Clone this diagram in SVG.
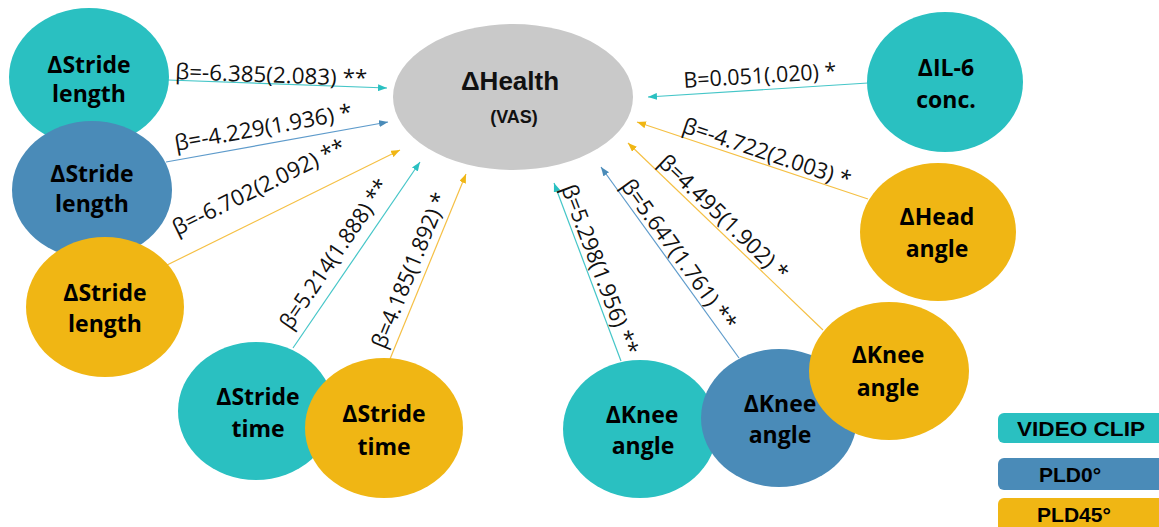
<svg xmlns="http://www.w3.org/2000/svg" width="1159" height="527" viewBox="0 0 1159 527">
<style>
.teal{fill:#2AC0C1}
.blue{fill:#4A8BB8}
.yel{fill:#F0B614}
.gray{fill:#C9C9C9}
.nt{font-family:"Open Sans","DejaVu Sans",sans-serif;font-weight:bold;font-size:23px;fill:#000;text-anchor:middle}
.lb{font-family:"Open Sans","DejaVu Sans",sans-serif;font-size:22px;fill:#111}
.lg{font-family:"Liberation Sans",Arial,sans-serif;font-weight:bold;font-size:21px;fill:#000;text-anchor:middle}
.ht{font-family:"Liberation Sans",Arial,sans-serif;font-weight:bold;fill:#111;text-anchor:middle}
.lt{stroke:#45C6C8;stroke-width:1.2;fill:none}
.lbl{stroke:#5E9BCB;stroke-width:1.2;fill:none}
.ly{stroke:#F5C045;stroke-width:1.2;fill:none}
</style>
<defs>
<marker id="at" markerUnits="userSpaceOnUse" markerWidth="9" markerHeight="7" refX="9" refY="3.5" orient="auto"><path d="M0,0 L9,3.5 L0,7 z" fill="#2AC0C1"/></marker>
<marker id="ab" markerUnits="userSpaceOnUse" markerWidth="9" markerHeight="7" refX="9" refY="3.5" orient="auto"><path d="M0,0 L9,3.5 L0,7 z" fill="#4A8BB8"/></marker>
<marker id="ay" markerUnits="userSpaceOnUse" markerWidth="9" markerHeight="7" refX="9" refY="3.5" orient="auto"><path d="M0,0 L9,3.5 L0,7 z" fill="#F0B614"/></marker>
</defs>
<rect width="1159" height="527" fill="#fff"/>

<g id="connectors">
<g id="c1"><line class="lt" x1="168" y1="80" x2="387" y2="88" marker-end="url(#at)"/>
<text class="lb" transform="translate(175,79) rotate(2.1)" textLength="192" lengthAdjust="spacingAndGlyphs">β=-6.385(2.083) **</text></g>
<g id="c2"><line class="lbl" x1="166" y1="162" x2="388" y2="122" marker-end="url(#ab)"/>
<text class="lb" transform="translate(176,151) rotate(-10.2)" textLength="180" lengthAdjust="spacingAndGlyphs">β=-4.229(1.936) *</text></g>
<g id="c3"><line class="ly" x1="163" y1="267" x2="400" y2="150" marker-end="url(#ay)"/>
<text class="lb" transform="translate(177,236) rotate(-26.3)" textLength="190" lengthAdjust="spacingAndGlyphs">β=-6.702(2.092) **</text></g>
<g id="c4"><line class="lt" x1="293" y1="348" x2="420" y2="162" marker-end="url(#at)"/>
<text class="lb" transform="translate(291,331) rotate(-55.7)" textLength="176" lengthAdjust="spacingAndGlyphs">β=5.214(1.888) **</text></g>
<g id="c5"><line class="ly" x1="390" y1="359" x2="466" y2="174" marker-end="url(#ay)"/>
<text class="lb" transform="translate(385,350) rotate(-67.7)" textLength="166" lengthAdjust="spacingAndGlyphs">β=4.185(1.892) *</text></g>
<g id="c6"><line class="lt" x1="621" y1="361" x2="554" y2="183" marker-end="url(#at)"/>
<text class="lb" transform="translate(561,188) rotate(69.4)" textLength="180" lengthAdjust="spacingAndGlyphs">β=5.298(1.956) **</text></g>
<g id="c7"><line class="lbl" x1="739" y1="358" x2="601" y2="167" marker-end="url(#ab)"/>
<text class="lb" transform="translate(620,186) rotate(54.1)" textLength="180" lengthAdjust="spacingAndGlyphs">β=5.647(1.761) **</text></g>
<g id="c8"><line class="ly" x1="823" y1="330" x2="628" y2="143" marker-end="url(#ay)"/>
<text class="lb" transform="translate(657,164) rotate(43.8)" textLength="170" lengthAdjust="spacingAndGlyphs">β=4.495(1.902) *</text></g>
<g id="c9"><line class="ly" x1="868" y1="199" x2="637" y2="122" marker-end="url(#ay)"/>
<text class="lb" transform="translate(681,132) rotate(18.4)" textLength="176" lengthAdjust="spacingAndGlyphs">β=-4.722(2.003) *</text></g>
<g id="c10"><line class="lt" x1="868" y1="83" x2="648" y2="97" marker-end="url(#at)"/>
<text class="lb" transform="translate(684,88) rotate(-3.6)" textLength="153" lengthAdjust="spacingAndGlyphs">B=0.051(.020) *</text></g>
</g>

<g id="health"><ellipse class="gray" cx="513" cy="97" rx="120" ry="73"/>
<text class="ht" x="510" y="90" font-size="26">ΔHealth</text>
<text class="ht" x="514" y="123" font-size="18">(VAS)</text></g>

<g id="strideLenVideo"><ellipse class="teal" cx="89" cy="77" rx="80" ry="69"/>
<text class="nt" x="89" y="73">ΔStride</text><text class="nt" x="89" y="102">length</text></g>
<g id="strideLenPLD0"><ellipse class="blue" cx="92" cy="190" rx="80" ry="69"/>
<text class="nt" x="92" y="182">ΔStride</text><text class="nt" x="92" y="212">length</text></g>
<g id="strideLenPLD45"><ellipse class="yel" cx="105" cy="307" rx="79" ry="70"/>
<text class="nt" x="105" y="301">ΔStride</text><text class="nt" x="105" y="332">length</text></g>

<g id="strideTimeVideo"><ellipse class="teal" cx="256" cy="411" rx="78" ry="69"/>
<text class="nt" x="258" y="405">ΔStride</text><text class="nt" x="258" y="437">time</text></g>
<g id="strideTimePLD45"><ellipse class="yel" cx="384" cy="428" rx="79" ry="70"/>
<text class="nt" x="384" y="422">ΔStride</text><text class="nt" x="384" y="455">time</text></g>

<g id="kneeVideo"><ellipse class="teal" cx="640" cy="429" rx="77" ry="69"/>
<text class="nt" x="642" y="423">ΔKnee</text><text class="nt" x="643" y="454">angle</text></g>
<g id="kneePLD0"><ellipse class="blue" cx="779" cy="418" rx="78" ry="69"/>
<text class="nt" x="780" y="412">ΔKnee</text><text class="nt" x="780" y="443">angle</text></g>
<g id="kneePLD45"><ellipse class="yel" cx="889" cy="371" rx="80" ry="69"/>
<text class="nt" x="888" y="363">ΔKnee</text><text class="nt" x="888" y="396">angle</text></g>

<g id="headPLD45"><ellipse class="yel" cx="938" cy="232" rx="78" ry="69"/>
<text class="nt" x="937" y="225">ΔHead</text><text class="nt" x="937" y="257">angle</text></g>
<g id="il6"><ellipse class="teal" cx="945" cy="82" rx="78" ry="70"/>
<text class="nt" x="946" y="76">ΔIL-6</text><text class="nt" x="946" y="108">conc.</text></g>

<g id="legend">
<g id="legVideo"><rect class="teal" x="998" y="413" width="175" height="30" rx="6"/>
<text class="lg" x="1081" y="436" textLength="128" lengthAdjust="spacingAndGlyphs">VIDEO CLIP</text></g>
<g id="legPLD0"><rect class="blue" x="998" y="458" width="175" height="32" rx="6"/>
<text class="lg" x="1070" y="482">PLD0°</text></g>
<g id="legPLD45"><rect class="yel" x="998" y="498" width="175" height="40" rx="6"/>
<text class="lg" x="1074" y="522">PLD45°</text></g>
</g>
</svg>
